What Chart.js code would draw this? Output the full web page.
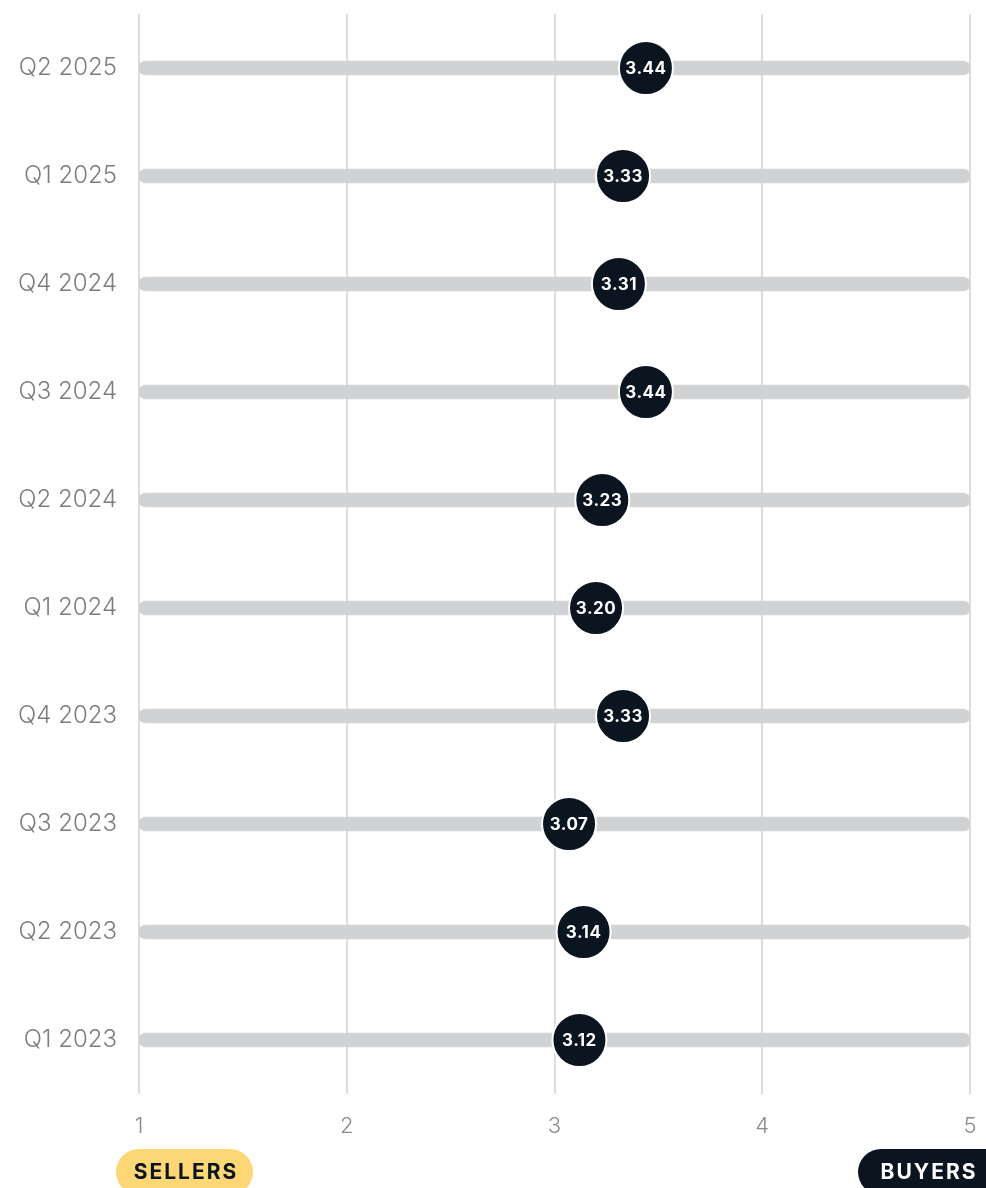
<!DOCTYPE html>
<html>
<head>
<meta charset="utf-8">
<script src="https://cdn.jsdelivr.net/npm/chart.js@4.4.1/dist/chart.umd.min.js"></script>
<style>
    html, body { margin: 0; padding: 0; background: #fff; }
    #wrap { width: 986px; height: 1188px; position: relative; overflow: hidden; }
</style>
</head>
<body>
<div id="wrap"><canvas id="sentimentChart" width="986" height="1188"></canvas></div>
<script>
const quarters = ["Q2 2025", "Q1 2025", "Q4 2024", "Q3 2024", "Q2 2024", "Q1 2024", "Q4 2023", "Q3 2023", "Q2 2023", "Q1 2023"];
const scores = [3.44, 3.33, 3.31, 3.44, 3.23, 3.20, 3.33, 3.07, 3.14, 3.12];
const scaleMin = 1;
const scaleMax = 5;
const xTicks = [1, 2, 3, 4, 5];
const endLabels = ["SELLERS", "BUYERS"];

const navy = '#0b1520';
const fontFamily = 'Inter, "Noto Sans", sans-serif';

// value text inside each dot
const dotLabels = {
    id: 'dotLabels',
    afterDatasetsDraw(chart) {
        const ctx = chart.ctx;
        const meta = chart.getDatasetMeta(1);
        ctx.save();
        ctx.fillStyle = '#ffffff';
        ctx.font = `700 17px ${fontFamily}`;
        ctx.letterSpacing = '0.5px';
        ctx.textAlign = 'center';
        ctx.textBaseline = 'middle';
        meta.data.forEach((pt, i) => {
            ctx.fillText(scores[i].toFixed(2), pt.x, pt.y + 1);
        });
        ctx.restore();
    }
};

// sellers / buyers pills under the axis
const endPills = {
    id: 'endPills',
    afterDraw(chart) {
        const ctx = chart.ctx;
        const area = chart.chartArea;
        const cy = 1172;
        const h = 46;
        ctx.save();
        ctx.font = `700 21px ${fontFamily}`;
        ctx.letterSpacing = '2px';
        ctx.textAlign = 'center';
        ctx.textBaseline = 'middle';

        // sellers
        let left = area.left - 23;
        ctx.fillStyle = '#fdd675';
        ctx.beginPath();
        ctx.roundRect(left, cy - h / 2, 137, h, h / 2);
        ctx.fill();
        ctx.fillStyle = navy;
        ctx.fillText(endLabels[0], left + 70, cy + 1);

        // buyers (runs off the right edge)
        left = area.right - 112;
        ctx.fillStyle = navy;
        ctx.beginPath();
        ctx.roundRect(left, cy - h / 2, 160, h, h / 2);
        ctx.fill();
        ctx.fillStyle = '#ffffff';
        ctx.fillText(endLabels[1], left + 71, cy + 1);
        ctx.restore();
    }
};

document.addEventListener('DOMContentLoaded', function() {
    const ctx = document.getElementById('sentimentChart').getContext('2d');

    new Chart(ctx, {
        type: 'bar',
        data: {
            labels: quarters,
            datasets: [{
                label: 'track',
                data: quarters.map(() => [scaleMin, scaleMax]),
                backgroundColor: '#d1d2d4',
                barThickness: 14,
                borderRadius: 7,
                borderSkipped: false,
                order: 2
            }, {
                type: 'line',
                label: 'score',
                data: scores,
                indexAxis: 'y',
                showLine: false,
                pointRadius: 27,
                pointHoverRadius: 27,
                pointBackgroundColor: navy,
                pointBorderColor: '#ffffff',
                pointBorderWidth: 2,
                clip: false,
                order: 1
            }]
        },
        options: {
            indexAxis: 'y',
            responsive: false,
            animation: false,
            layout: { autoPadding: false, padding: { top: 14, right: 16, left: 0, bottom: 0 } },
            plugins: {
                legend: { display: false },
                tooltip: { enabled: false }
            },
            scales: {
                x: {
                    type: 'linear',
                    min: scaleMin,
                    max: scaleMax,
                    afterBuildTicks: (scale) => { scale.ticks = xTicks.map(v => ({ value: v })); },
                    afterFit: (scale) => {
                        scale.height = 94;
                        scale.paddingLeft = 0;
                        scale.paddingRight = 0;
                    },
                    grid: { color: '#dcdcdc', lineWidth: 2, drawTicks: false },
                    border: { display: false },
                    ticks: {
                        padding: 19,
                        color: '#8a8a8a',
                        font: { family: fontFamily, size: 22, weight: 300 }
                    }
                },
                y: {
                    type: 'category',
                    offset: true,
                    afterFit: (scale) => {
                        scale.width = 139;
                        scale.paddingTop = 0;
                        scale.paddingBottom = 0;
                    },
                    grid: { display: false, drawTicks: false },
                    border: { display: false },
                    ticks: {
                        padding: 22,
                        color: '#7d7d7d',
                        font: { family: fontFamily, size: 24, weight: 300 }
                    }
                }
            }
        },
        plugins: [dotLabels, endPills]
    });
});
</script>
</body>
</html>
